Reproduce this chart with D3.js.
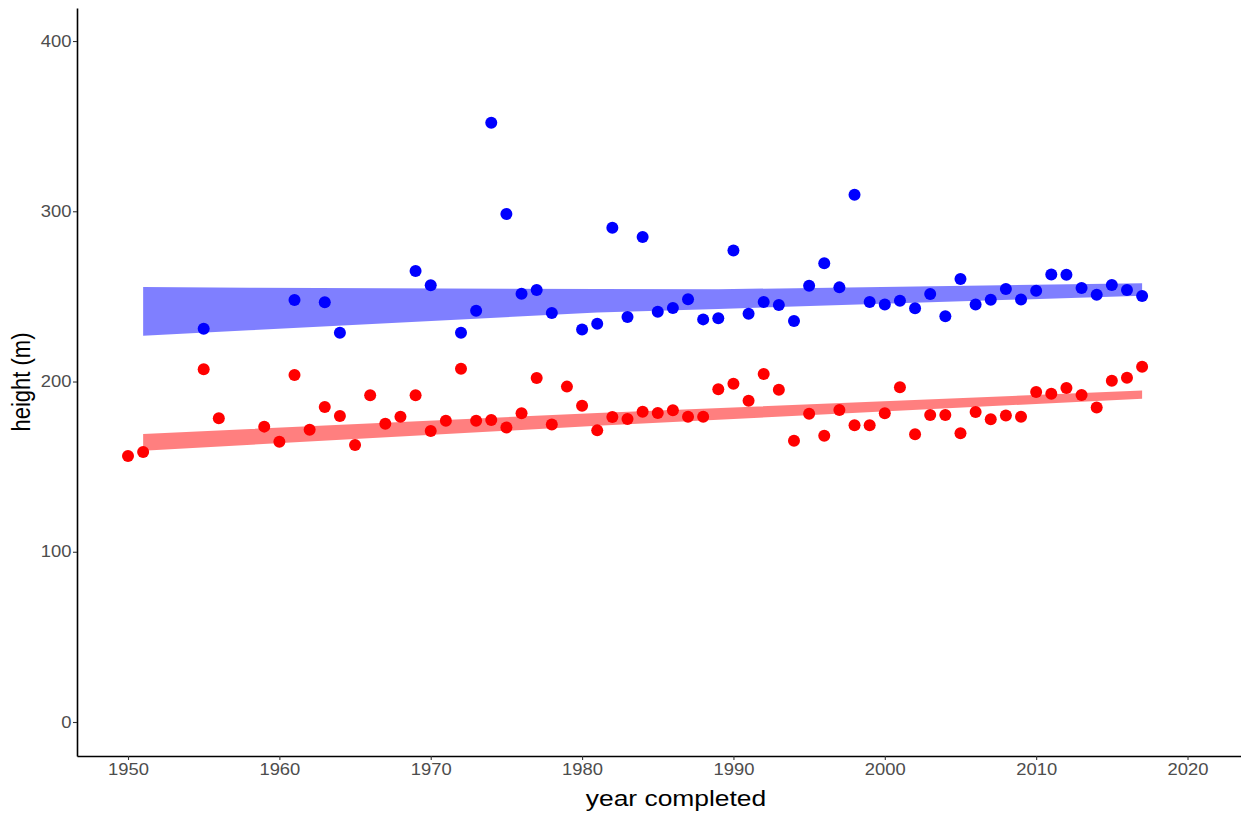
<!DOCTYPE html>
<html>
<head>
<meta charset="utf-8">
<script src="https://cdn.jsdelivr.net/npm/d3@7"></script>
<style>
  body { margin: 0; background: #fff; }
  text { font-family: 'Liberation Sans', Arial, sans-serif; }
</style>
</head>
<body>
<svg id="chart" width="1241" height="813"></svg>
<script>
/****************************************************************
    Data
/****************************************************************/
const redYears = [1950, 1951, 1955, 1956, 1959, 1960, 1961, 1962, 1963, 1964, 1965, 1966, 1967, 1968, 1969, 1970,
  1971, 1972, 1973, 1974, 1975, 1976, 1977, 1978, 1979, 1980, 1981, 1982, 1983, 1984, 1985, 1986, 1987, 1988,
  1989, 1990, 1991, 1992, 1993, 1994, 1995, 1996, 1997, 1998, 1999, 2000, 2001, 2002, 2003, 2004, 2005, 2006,
  2007, 2008, 2009, 2010, 2011, 2012, 2013, 2014, 2015, 2016, 2017]
const redHeights = [156.2, 158.6, 207.2, 178.4, 173.5, 164.6, 203.8, 171.7, 185, 179.7, 162.7, 192, 175.2, 179.3, 192, 170.9,
  177, 207.5, 177, 177.4, 173, 181.3, 202, 174.8, 197, 185.8, 171.3, 179.2, 178, 182.3, 181.5, 183.1, 179.3, 179.3,
  195.4, 198.7, 188.7, 204.4, 195.2, 165.2, 181.1, 168.2, 183.3, 174.3, 174.3, 181.3, 196.6, 169, 180.3, 180.3, 169.6, 182.1,
  177.8, 180.1, 179.3, 193.8, 192.8, 196.2, 192.1, 184.8, 200.5, 202.2, 208.7]

const blueYears = [1955, 1961, 1963, 1964, 1969, 1970, 1972, 1973, 1974, 1975, 1976, 1977, 1978, 1980, 1981, 1982,
  1983, 1984, 1985, 1986, 1987, 1988, 1989, 1990, 1991, 1992, 1993, 1994, 1995, 1996, 1997, 1998, 1999, 2000,
  2001, 2002, 2003, 2004, 2005, 2006, 2007, 2008, 2009, 2010, 2011, 2012, 2013, 2014, 2015, 2016, 2017]
const blueHeights = [231, 247.9, 246.5, 228.7, 264.9, 256.5, 228.7, 241.6, 352, 298.4, 251.6, 253.7, 240.2, 230.6, 233.9, 290.3,
  237.9, 284.9, 241, 243.2, 248.3, 236.5, 237.1, 277, 239.8, 246.7, 244.9, 235.5, 256.3, 269.4, 255.3, 309.7, 246.7, 245.3,
  247.5, 243, 251.4, 238.3, 260.2, 245.3, 248, 254.3, 248.2, 253.3, 262.9, 262.7, 254.9, 251, 256.7, 253.7, 250.2]

// bands
const blueBandYears = [1951, 1958, 1981, 1989, 2017]
const blueBandUpper = [255.5, 255.1, 254.3, 254.2, 257.7]
const blueBandLower = [226.9, 230.1, 240.5, 242.6, 250.4]
const redBandYears = [1951, 1981, 2017]
const redBandUpper = [169.2, 181.5, 194.7]
const redBandLower = [159.4, 174.0, 189.9]

const xTicks = [1950, 1960, 1970, 1980, 1990, 2000, 2010, 2020]
const yTicks = [0, 100, 200, 300, 400]

/****************************************************************
    Settings
/****************************************************************/
const settings = {
  left: 77, //panel left edge (y axis line)
  right: 1275, //panel right edge, runs past the window like in the picture
  top: 8,
  bottom: 756, //x axis line
  pointRadius: 6,
  tickColor: '#333333',
  labelColor: '#4d4d4d',
  tickFont: 16,
  titleFont: 22,
  stretch: 1.15 //text in the picture is a bit wide
}

const svg = d3.select('#chart')

const x = d3.scaleLinear().domain([1946.63, 2025.78]).range([settings.left, settings.right])
const y = d3.scaleLinear().domain([-19.97, 419.4]).range([settings.bottom, settings.top])

/****************************************************************
    Bands (drawn under the points)
/****************************************************************/
function drawBand(years, lower, upper, color) {
  const rows = years.map((yr, i) => ({ yr, lo: lower[i], hi: upper[i] }))
  const area = d3.area()
    .x(d => x(d.yr))
    .y0(d => y(d.lo))
    .y1(d => y(d.hi))
  svg.append('path')
    .datum(rows)
    .attr('d', area)
    .style('fill', color)
    .style('fill-opacity', 0.5)
}
drawBand(blueBandYears, blueBandLower, blueBandUpper, '#0000ff')
drawBand(redBandYears, redBandLower, redBandUpper, '#ff0000')

/****************************************************************
    Points
/****************************************************************/
function drawPoints(years, heights, color) {
  svg.append('g')
    .selectAll('circle')
    .data(years.map((yr, i) => ({ yr, h: heights[i] })))
    .join('circle')
    .attr('cx', d => x(d.yr))
    .attr('cy', d => y(d.h))
    .attr('r', settings.pointRadius)
    .style('fill', color)
}
drawPoints(redYears, redHeights, '#ff0000')
drawPoints(blueYears, blueHeights, '#0000ff')

/****************************************************************
    Axes
/****************************************************************/
const xAxis = svg.append('g')
  .attr('transform', `translate(0,${settings.bottom})`)
  .call(d3.axisBottom(x).tickValues(xTicks).tickFormat(d3.format('d')).tickSize(4).tickSizeOuter(0))
const yAxis = svg.append('g')
  .attr('transform', `translate(${settings.left},0)`)
  .call(d3.axisLeft(y).tickValues(yTicks).tickSize(4).tickSizeOuter(0))

;[xAxis, yAxis].forEach(g => {
  g.select('.domain').attr('stroke', '#000').attr('stroke-width', 1.6)
  g.selectAll('.tick line').attr('stroke', settings.tickColor).attr('stroke-width', 1.1)
  g.selectAll('.tick text')
    .attr('fill', settings.labelColor)
    .attr('transform', `scale(${settings.stretch},1)`)
    .style('font-size', settings.tickFont + 'px')
    .style('font-family', "'Liberation Sans', Arial, sans-serif")
})
xAxis.selectAll('.tick text').attr('dy', '0.71em').attr('y', 8)
yAxis.selectAll('.tick text').attr('x', -5.5 / settings.stretch)

// titles
svg.append('text')
  .attr('transform', `translate(${(settings.left + settings.right) / 2},806) scale(1.2,1)`)
  .attr('text-anchor', 'middle')
  .style('font-size', settings.titleFont + 'px')
  .style('fill', '#000')
  .text('year completed')

svg.append('text')
  .attr('transform', `translate(30,${(settings.top + settings.bottom) / 2}) scale(1.2,1) rotate(-90)`)
  .attr('text-anchor', 'middle')
  .style('font-size', settings.titleFont + 'px')
  .style('fill', '#000')
  .text('height (m)')
</script>
</body>
</html>
